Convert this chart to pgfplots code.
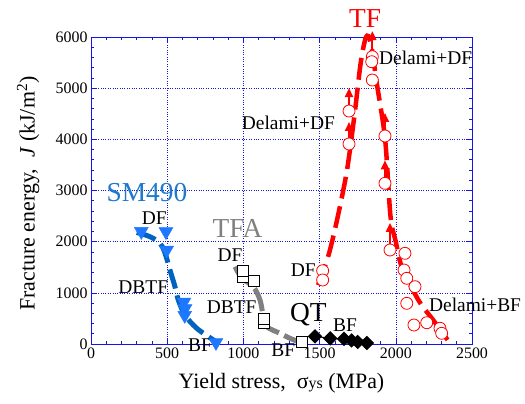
\documentclass[border=0pt]{standalone}
\usepackage{pgfplots}
\pgfplotsset{compat=1.18}
\usepackage{fontspec}
\setmainfont{Liberation Serif}
\usetikzlibrary{arrows.meta}
\definecolor{axblue}{RGB}{20,20,230}
\definecolor{smtri}{RGB}{30,120,255}
\definecolor{smline}{RGB}{0,100,190}
\definecolor{smtext}{RGB}{30,120,205}
\definecolor{tfagray}{RGB}{128,128,128}
\newcommand\fsA{\fontsize{19.5}{21}\selectfont}
\newcommand\fsB{\fontsize{27.5}{29}\selectfont}
\begin{document}
\begin{tikzpicture}
\useasboundingbox (-91bp,-60bp) rectangle (434bp,344bp);
\begin{axis}[
  at={(0,0)}, anchor=south west,
  scale only axis, width=381bp, height=307bp,
  xmin=0, xmax=2500, ymin=0, ymax=6000,
  xtick={0,500,...,2500}, ytick={0,1000,...,6000},
  minor x tick num=4, minor y tick num=4,
  tick align=inside,
  major tick length=6bp, minor tick length=3bp,
  every tick/.style={axblue, line width=0.6bp},
  axis line style={axblue, line width=0.9bp},
  grid=major,
  major grid style={axblue, dotted, line width=0.6bp},
  tick label style={font=\fontsize{16}{18}\selectfont},
  /pgf/number format/assume math mode=true,
  /pgf/number format/set thousands separator={},
  clip=false,
  xlabel={Yield stress,\ \ σ{\fontsize{16}{16}\selectfont ys} (MPa)},
  ylabel={Fracture energy,\ \ \textit{J} (kJ/m\textsuperscript{2})},
  label style={font=\fontsize{22}{24}\selectfont},
  xlabel style={at={(axis description cs:0.5,-0.127)}, anchor=center},
  ylabel style={at={(axis description cs:-0.165,0.49)}, anchor=center},
]
% SM490
\addplot[smline, line width=5bp, dash pattern=on 20bp off 7bp, smooth, tension=0.6]
  coordinates {(300,2180)(387,2097)(453,1968)(486,1772)(518,1446)(551,1120)(573,860)(617,567)(694,307)(803,78)(835,0)};
\addplot[only marks, mark=triangle*, mark size=8bp, mark options={rotate=180, fill=smtri, draw=smtri}]
  coordinates {(330,2200)(492,2195)(497,1837)(610,820)(617,690)(615,560)(820,30)};
% TFA
\addplot[tfagray, line width=5bp, dash pattern=on 24bp off 6bp, smooth]
  coordinates {(945,1511)(989,1290)(1065,1120)(1109,860)(1131,534)(1153,338)(1240,209)(1306,111)(1371,33)};
\addplot[only marks, mark=square*, mark size=5.5bp, mark options={fill=white, draw=black, line width=0.8bp}]
  coordinates {(997,1315)(997,1432)(1068,1237)(1135,410)(1135,483)(1383,33)};
% QT
\addplot[black, line width=1bp, mark=diamond*, mark size=6.5bp, mark options={fill=black, xscale=1.35}]
  coordinates {(1470,150)(1570,110)(1660,100)(1710,70)(1750,40)(1810,20)};
% TF
\addplot[red, line width=4.5bp, dash pattern=on 22bp off 8bp, smooth, tension=0.5]
  coordinates {(1490,1150)(1560,1750)(1620,2500)(1680,3400)(1730,4500)(1770,5500)(1805,6000)(1835,5900)(1875,5100)(1930,4000)(1965,2500)(2000,2000)(2040,1500)(2150,850)(2250,450)(2340,80)};
\addplot[red, line width=2bp, -{Triangle[length=9bp,width=8bp]}, quiver={u=0, v=\thisrow{v}}]
  table {
x y v
1693 3909 430
1693 4553 450
1846 5615 500
1929 4065 450
1929 3140 450
1962 1837 530
};
\addplot[only marks, mark=*, mark size=6bp, mark options={fill=white, draw=red, line width=0.8bp}]
  coordinates {(1520,1432)(1520,1251)(1693,4553)(1693,3909)(1846,5615)(1842,5517)(1846,5159)(1929,4065)(1929,3140)(1962,1837)(2060,1772)(2054,1446)(2072,1284)(2126,1120)(2072,795)(2119,371)(2203,416)(2290,307)(2301,209)};
% labels
\node[smtext, font=\fsB] at (axis cs:367,2951) {SM490};
\node[font=\fsA] at (axis cs:415,2456) {DF};
\node[font=\fsA] at (axis cs:343,1120) {DBTF};
\node[font=\fsA] at (axis cs:715,-20) {BF};
\node[tfagray, font=\fsB] at (axis cs:961,2261) {TFA};
\node[font=\fsA] at (axis cs:912,1739) {DF};
\node[font=\fsA] at (axis cs:923,729) {DBTF};
\node[font=\fsA] at (axis cs:1262,-117) {BF};
\node[font=\fsB] at (axis cs:1426,567) {QT};
\node[font=\fsA] at (axis cs:1667,371) {BF};
\node[red, font=\fsB] at (axis cs:1798,6365) {TF};
\node[font=\fsA] at (axis cs:2196,5583) {Delami+DF};
\node[font=\fsA] at (axis cs:1295,4313) {Delami+DF};
\node[font=\fsA] at (axis cs:1393,1446) {DF};
\node[font=\fsA] at (axis cs:2520,762) {Delami+BF};
\end{axis}
\end{tikzpicture}
\end{document}
